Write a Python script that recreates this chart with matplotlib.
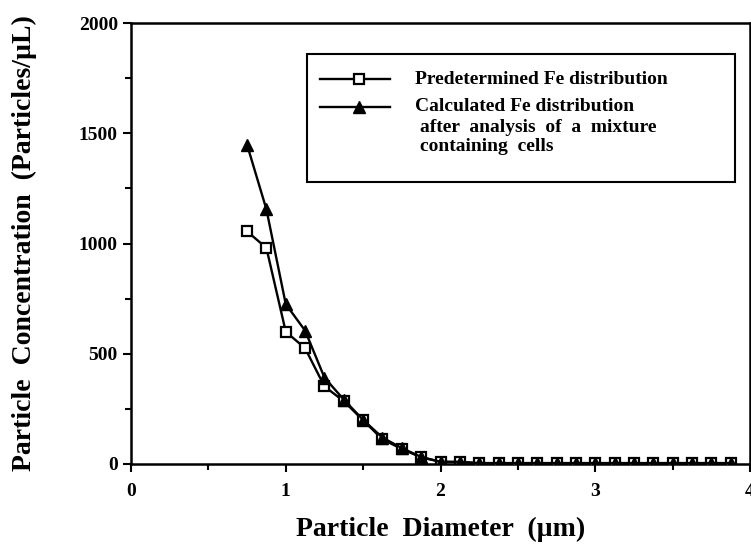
import matplotlib
matplotlib.use("Agg")
import matplotlib.pyplot as plt
from matplotlib.lines import Line2D
from matplotlib.patches import Rectangle
from matplotlib.ticker import MultipleLocator

diameter = [0.75, 0.875, 1.0, 1.125, 1.25, 1.375, 1.5, 1.625, 1.75, 1.875,
            2.0, 2.125, 2.25, 2.375, 2.5, 2.625, 2.75, 2.875, 3.0, 3.125,
            3.25, 3.375, 3.5, 3.625, 3.75, 3.875]
predetermined = [1055, 980, 600, 525, 352, 285, 198, 112, 68, 30,
                 10, 8, 4, 4, 4, 4, 4, 4, 4, 4,
                 4, 4, 4, 4, 4, 4]
calculated = [1448, 1155, 725, 605, 392, 292, 200, 120, 72, 32,
              10, 10, 4, 4, 4, 4, 4, 4, 4, 4,
              4, 4, 4, 4, 4, 4]
label_pre = "Predetermined Fe distribution"
label_calc = "Calculated Fe distribution"
label_calc2 = "after  analysis  of  a  mixture"
label_calc3 = "containing  cells"
xlabel = "Particle  Diameter  (\u00b5m)"
ylabel = "Particle  Concentration  (Particles/\u00b5L)"

plt.rcParams['font.family'] = ['Liberation Serif', 'DejaVu Serif']
plt.rcParams['font.weight'] = 'bold'

fig = plt.figure(figsize=(7.51, 5.48), dpi=100)
W, H = 751, 548
ax = fig.add_axes([131 / W, (H - 464) / H, 619 / W, 441 / H])

ax.plot(diameter, predetermined, color='black', lw=1.7, marker='s',
        markersize=7.5, markerfacecolor='white', markeredgecolor='black',
        markeredgewidth=1.6, zorder=3)
ax.plot(diameter, calculated, color='black', lw=1.7, marker='^',
        markersize=8.5, markerfacecolor='black', markeredgecolor='black',
        zorder=4)

ax.set_xlim(0, 4)
ax.set_ylim(0, 2000)
ax.xaxis.set_major_locator(MultipleLocator(1))
ax.xaxis.set_minor_locator(MultipleLocator(0.5))
ax.yaxis.set_major_locator(MultipleLocator(500))
ax.yaxis.set_minor_locator(MultipleLocator(250))
ax.tick_params(which='both', direction='out', width=1.5, labelsize=14)
ax.tick_params(which='major', length=6)
ax.tick_params(which='minor', length=4)
ax.tick_params(axis='x', pad=8)
for lab in ax.get_xticklabels() + ax.get_yticklabels():
    lab.set_fontweight('bold')
for s in ax.spines.values():
    s.set_linewidth(1.8)

ax.set_xlabel(xlabel, fontsize=20, fontweight='bold', labelpad=12)
ax.set_ylabel(ylabel, fontsize=20, fontweight='bold', labelpad=30)

# legend box drawn manually (multi-line indented entry)
ax.add_patch(Rectangle((0.285, 0.639), 0.69, 0.291, transform=ax.transAxes,
                       facecolor='white', edgecolor='black', lw=1.5, zorder=5))
ax.add_line(Line2D([0.306, 0.368, 0.418], [0.873, 0.873, 0.873],
                   transform=ax.transAxes, color='black', lw=1.7,
                   marker='s', markersize=7.5, markevery=[1],
                   markerfacecolor='white', markeredgewidth=1.6, zorder=6))
ax.add_line(Line2D([0.306, 0.368, 0.418], [0.810, 0.810, 0.810],
                   transform=ax.transAxes, color='black', lw=1.7,
                   marker='^', markersize=8.5, markevery=[1],
                   markerfacecolor='black', zorder=6))

tkw = dict(transform=ax.transAxes, fontsize=14, fontweight='bold',
           va='center', ha='left', zorder=7)
ax.text(0.459, 0.873, label_pre, **tkw)
ax.text(0.459, 0.810, label_calc, **tkw)
ax.text(0.467, 0.762, label_calc2, **tkw)
ax.text(0.467, 0.719, label_calc3, **tkw)

fig.savefig("out.png", dpi=100)
